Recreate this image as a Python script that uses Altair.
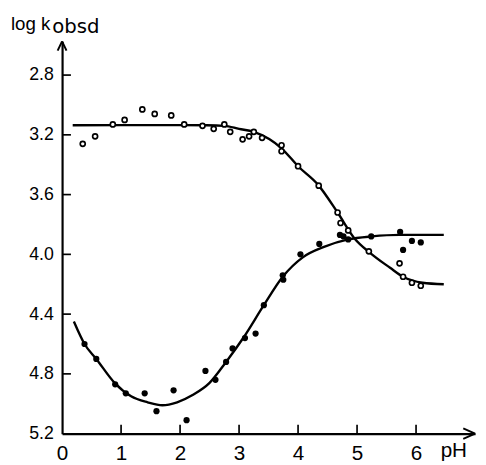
import altair as alt
import pandas as pd

# ---- data ----
OPEN_PH = [0.35, 0.56, 0.86, 1.06, 1.36, 1.57, 1.85, 2.07, 2.38, 2.57, 2.75, 2.85,
           3.06, 3.17, 3.25, 3.39, 3.72, 3.72, 4.00, 4.35, 4.67, 4.72, 4.85, 5.20,
           5.72, 5.78, 5.93, 6.08]
OPEN_V = [3.26, 3.21, 3.13, 3.10, 3.03, 3.06, 3.07, 3.13, 3.14, 3.16, 3.13, 3.18,
          3.23, 3.21, 3.18, 3.22, 3.27, 3.31, 3.41, 3.54, 3.72, 3.79, 3.84, 3.98,
          4.06, 4.15, 4.19, 4.21]

FILLED_PH = [0.38, 0.58, 0.90, 1.08, 1.40, 1.60, 1.89, 2.11, 2.43, 2.60, 2.78, 2.89,
             3.10, 3.28, 3.42, 3.74, 3.75, 4.04, 4.36, 4.71, 4.77, 4.85, 5.24, 5.73,
             5.78, 5.93, 6.08]
FILLED_V = [4.60, 4.70, 4.87, 4.93, 4.93, 5.05, 4.91, 5.11, 4.78, 4.84, 4.72, 4.63,
            4.56, 4.53, 4.34, 4.14, 4.17, 4.00, 3.93, 3.87, 3.88, 3.90, 3.88, 3.85,
            3.97, 3.91, 3.92]

OPEN_CURVE_PH = [0.18, 1.0, 2.0, 2.45, 2.75, 3.0, 3.25, 3.72, 4.0, 4.33, 4.67, 4.95,
                 5.22, 5.56, 5.78, 6.11, 6.47]
OPEN_CURVE_V = [3.136, 3.135, 3.135, 3.136, 3.14, 3.16, 3.18, 3.29, 3.41, 3.53, 3.72,
                3.89, 3.99, 4.09, 4.15, 4.19, 4.20]
FILLED_CURVE_PH = [0.20, 0.38, 0.58, 0.89, 1.17, 1.45, 1.70, 1.95, 2.22, 2.50, 2.78,
                   3.07, 3.42, 3.74, 4.08, 4.44, 4.85, 5.25, 5.72, 6.47]
FILLED_CURVE_V = [4.45, 4.60, 4.70, 4.86, 4.95, 4.99, 5.01, 4.99, 4.94, 4.86, 4.72,
                  4.56, 4.34, 4.15, 4.02, 3.95, 3.90, 3.88, 3.87, 3.87]

X_TICKS = [0, 1, 2, 3, 4, 5, 6]
Y_TICKS = [2.8, 3.2, 3.6, 4.0, 4.4, 4.8, 5.2]
X_MAX = 7.0
Y_TOP = 2.574
Y_BOTTOM = 5.2

TITLE_MAIN = "log k"
TITLE_SUB = "obsd"
X_TITLE = "pH"

# ---- tables ----
open_pts = pd.DataFrame({"ph": OPEN_PH, "v": OPEN_V})
filled_pts = pd.DataFrame({"ph": FILLED_PH, "v": FILLED_V})
open_curve = pd.DataFrame({"ph": OPEN_CURVE_PH, "v": OPEN_CURVE_V})
filled_curve = pd.DataFrame({"ph": FILLED_CURVE_PH, "v": FILLED_CURVE_V})
yticks = pd.DataFrame({"v": Y_TICKS[:-1]})
xticks = pd.DataFrame({"ph": X_TICKS[1:]})

# arrowhead chevrons: each arm is a segment from the axis tip back to a barb
AY_HALF, AY_LEN = 0.075, 0.062
AX_LEN, AX_HALF = 0.2, 0.035
arms = pd.DataFrame({
    "ph":  [0.0, 0.0, X_MAX, X_MAX],
    "v":   [Y_TOP, Y_TOP, Y_BOTTOM, Y_BOTTOM],
    "ph2": [-AY_HALF, AY_HALF, X_MAX - AX_LEN, X_MAX - AX_LEN],
    "v2":  [Y_TOP + AY_LEN, Y_TOP + AY_LEN, Y_BOTTOM - AX_HALF, Y_BOTTOM + AX_HALF],
})

FONT = "Liberation Sans"
xs = alt.Scale(domain=[0, X_MAX], nice=False, zero=False)
ys = alt.Scale(domain=[Y_TOP, Y_BOTTOM], reverse=True, nice=False, zero=False)

xaxis = alt.Axis(values=X_TICKS, format="d", title=None, grid=False, ticks=False,
                 domain=True, domainColor="black", domainWidth=2.2,
                 labelFont=FONT, labelFontSize=21, labelColor="black",
                 labelPadding=9, labelFlush=False, labelOverlap=False)
yaxis = alt.Axis(values=Y_TICKS, format=".1f", title=None, grid=False, ticks=False,
                 domain=True, domainColor="black", domainWidth=2.2,
                 labelFont=FONT, labelFontSize=18, labelColor="black",
                 labelPadding=9, labelFlush=False, labelOverlap=False)

X = alt.X("ph:Q", scale=xs, axis=xaxis)
Y = alt.Y("v:Q", scale=ys, axis=yaxis)

line_open = alt.Chart(open_curve).mark_line(
    color="black", strokeWidth=2.4, interpolate="monotone").encode(x=X, y=Y)
line_filled = alt.Chart(filled_curve).mark_line(
    color="black", strokeWidth=2.4, interpolate="monotone").encode(x=X, y=Y)

pts_open = alt.Chart(open_pts).mark_point(
    shape="circle", filled=True, fill="white", stroke="black", strokeWidth=1.7,
    size=26, opacity=1).encode(x=X, y=Y)
pts_filled = alt.Chart(filled_pts).mark_circle(
    color="black", size=40, opacity=1).encode(x=X, y=Y)

ytick_rules = alt.Chart(yticks).mark_rule(color="black", strokeWidth=1.7).encode(
    y=Y, x=alt.value(0), x2=alt.value(9))
xtick_rules = alt.Chart(xticks).mark_rule(color="black", strokeWidth=1.7).encode(
    x=X, y=alt.value(399), y2=alt.value(390))

arrow_arms = alt.Chart(arms).mark_rule(color="black", strokeWidth=2.0).encode(
    x=X, y=Y, x2="ph2:Q", y2="v2:Q")

t_main = alt.Chart(pd.DataFrame({"t": [TITLE_MAIN]})).mark_text(
    align="left", baseline="alphabetic", font=FONT, fontSize=19, color="black"
).encode(text="t:N", x=alt.value(-52), y=alt.value(-11))
t_sub = alt.Chart(pd.DataFrame({"t": [TITLE_SUB]})).mark_text(
    align="left", baseline="alphabetic", font="DejaVu Sans", fontSize=20, color="black"
).encode(text="t:N", x=alt.value(-10), y=alt.value(-8.5))
t_x = alt.Chart(pd.DataFrame({"t": [X_TITLE]})).mark_text(
    align="left", baseline="alphabetic", font=FONT, fontSize=21, color="black"
).encode(text="t:N", x=alt.value(385), y=alt.value(422.5))

chart = alt.layer(
    line_open, line_filled, pts_open, pts_filled,
    ytick_rules, xtick_rules, arrow_arms,
    t_main, t_sub, t_x,
).properties(
    width=420, height=399,
    padding={"left": 55, "top": 30, "right": 3, "bottom": 27},
    autosize=alt.AutoSizeParams(type="none"),
    background="white",
).configure_view(stroke=None)

chart.save("out.html", embed_options={"renderer": "svg", "actions": False})
